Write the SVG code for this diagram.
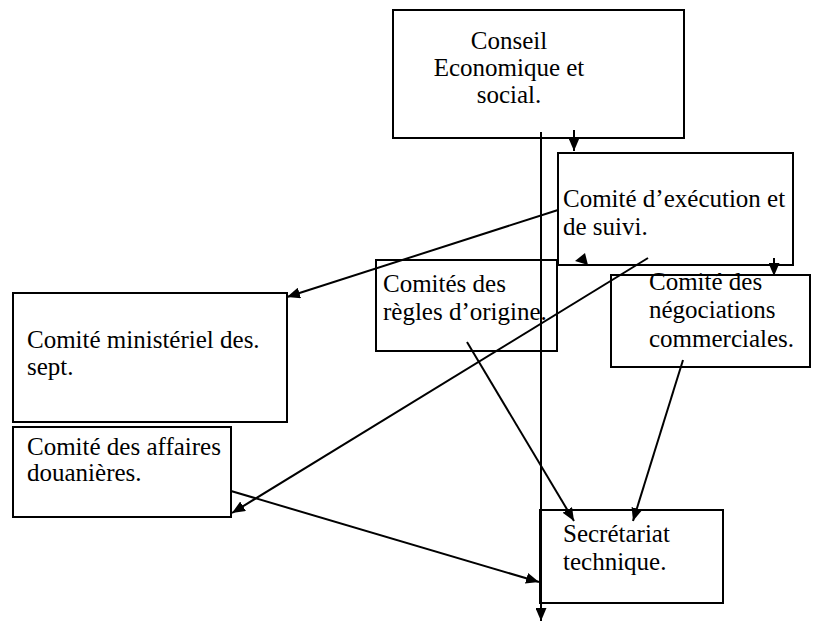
<svg xmlns="http://www.w3.org/2000/svg" width="820" height="622" viewBox="0 0 820 622">
<defs>
<marker id="ah" markerWidth="13" markerHeight="11" refX="13" refY="5.5" orient="auto" markerUnits="userSpaceOnUse">
<path d="M0,0 L13,5.5 L0,11 Z" fill="#000"/>
</marker>
</defs>
<rect width="820" height="622" fill="#fff"/>
<g font-family="Liberation Serif, Times New Roman, serif" font-size="25" fill="#000">
<g id="conseil">
<rect x="393" y="10" width="291" height="128" fill="#fff" stroke="#000" stroke-width="2"/>
<text text-anchor="middle"><tspan x="509" y="49">Conseil</tspan><tspan x="509" y="76">Economique et</tspan><tspan x="509" y="103">social.</tspan></text>
</g>
<g id="execution">
<rect x="558" y="153" width="235" height="112" fill="#fff" stroke="#000" stroke-width="2"/>
<text><tspan x="563" y="207">Comité d’exécution et</tspan><tspan x="563" y="235">de suivi.</tspan></text>
</g>
<g id="regles">
<rect x="376" y="260" width="181" height="91" fill="#fff" stroke="#000" stroke-width="2"/>
<text><tspan x="383" y="292">Comités des</tspan><tspan x="383" y="320">règles d’origine.</tspan></text>
</g>
<g id="negociations">
<rect x="611" y="275" width="199" height="92" fill="#fff" stroke="#000" stroke-width="2"/>
<text><tspan x="649" y="290">Comité des</tspan><tspan x="649" y="318">négociations</tspan><tspan x="649" y="347">commerciales.</tspan></text>
</g>
<g id="ministeriel">
<rect x="13" y="293" width="274" height="129" fill="#fff" stroke="#000" stroke-width="2"/>
<text><tspan x="27" y="348">Comité ministériel des.</tspan><tspan x="27" y="375">sept.</tspan></text>
</g>
<g id="douanieres">
<rect x="13" y="427" width="218" height="90" fill="#fff" stroke="#000" stroke-width="2"/>
<text><tspan x="27" y="455">Comité des affaires</tspan><tspan x="27" y="481">douanières.</tspan></text>
</g>
<g id="secretariat">
<rect x="540" y="510" width="183" height="93" fill="#fff" stroke="#000" stroke-width="2"/>
<text><tspan x="563" y="542">Secrétariat</tspan><tspan x="563" y="570">technique.</tspan></text>
</g>
</g>
<g id="connectors" stroke="#000" stroke-width="2" fill="none">
<line x1="541" y1="132" x2="541" y2="621" marker-end="url(#ah)"/>
<line x1="574" y1="130" x2="574" y2="151" marker-end="url(#ah)"/>
<line x1="558" y1="210" x2="287" y2="297" marker-end="url(#ah)"/>
<polygon points="575,261 585,253 588,265" fill="#000" stroke="none"/>
<line x1="774" y1="258" x2="774" y2="276" marker-end="url(#ah)"/>
<line x1="648" y1="258" x2="232" y2="513" marker-end="url(#ah)"/>
<line x1="467" y1="342" x2="574" y2="521" marker-end="url(#ah)"/>
<line x1="683" y1="360" x2="633" y2="521" marker-end="url(#ah)"/>
<line x1="231" y1="491" x2="539" y2="582" marker-end="url(#ah)"/>
</g>
</svg>
